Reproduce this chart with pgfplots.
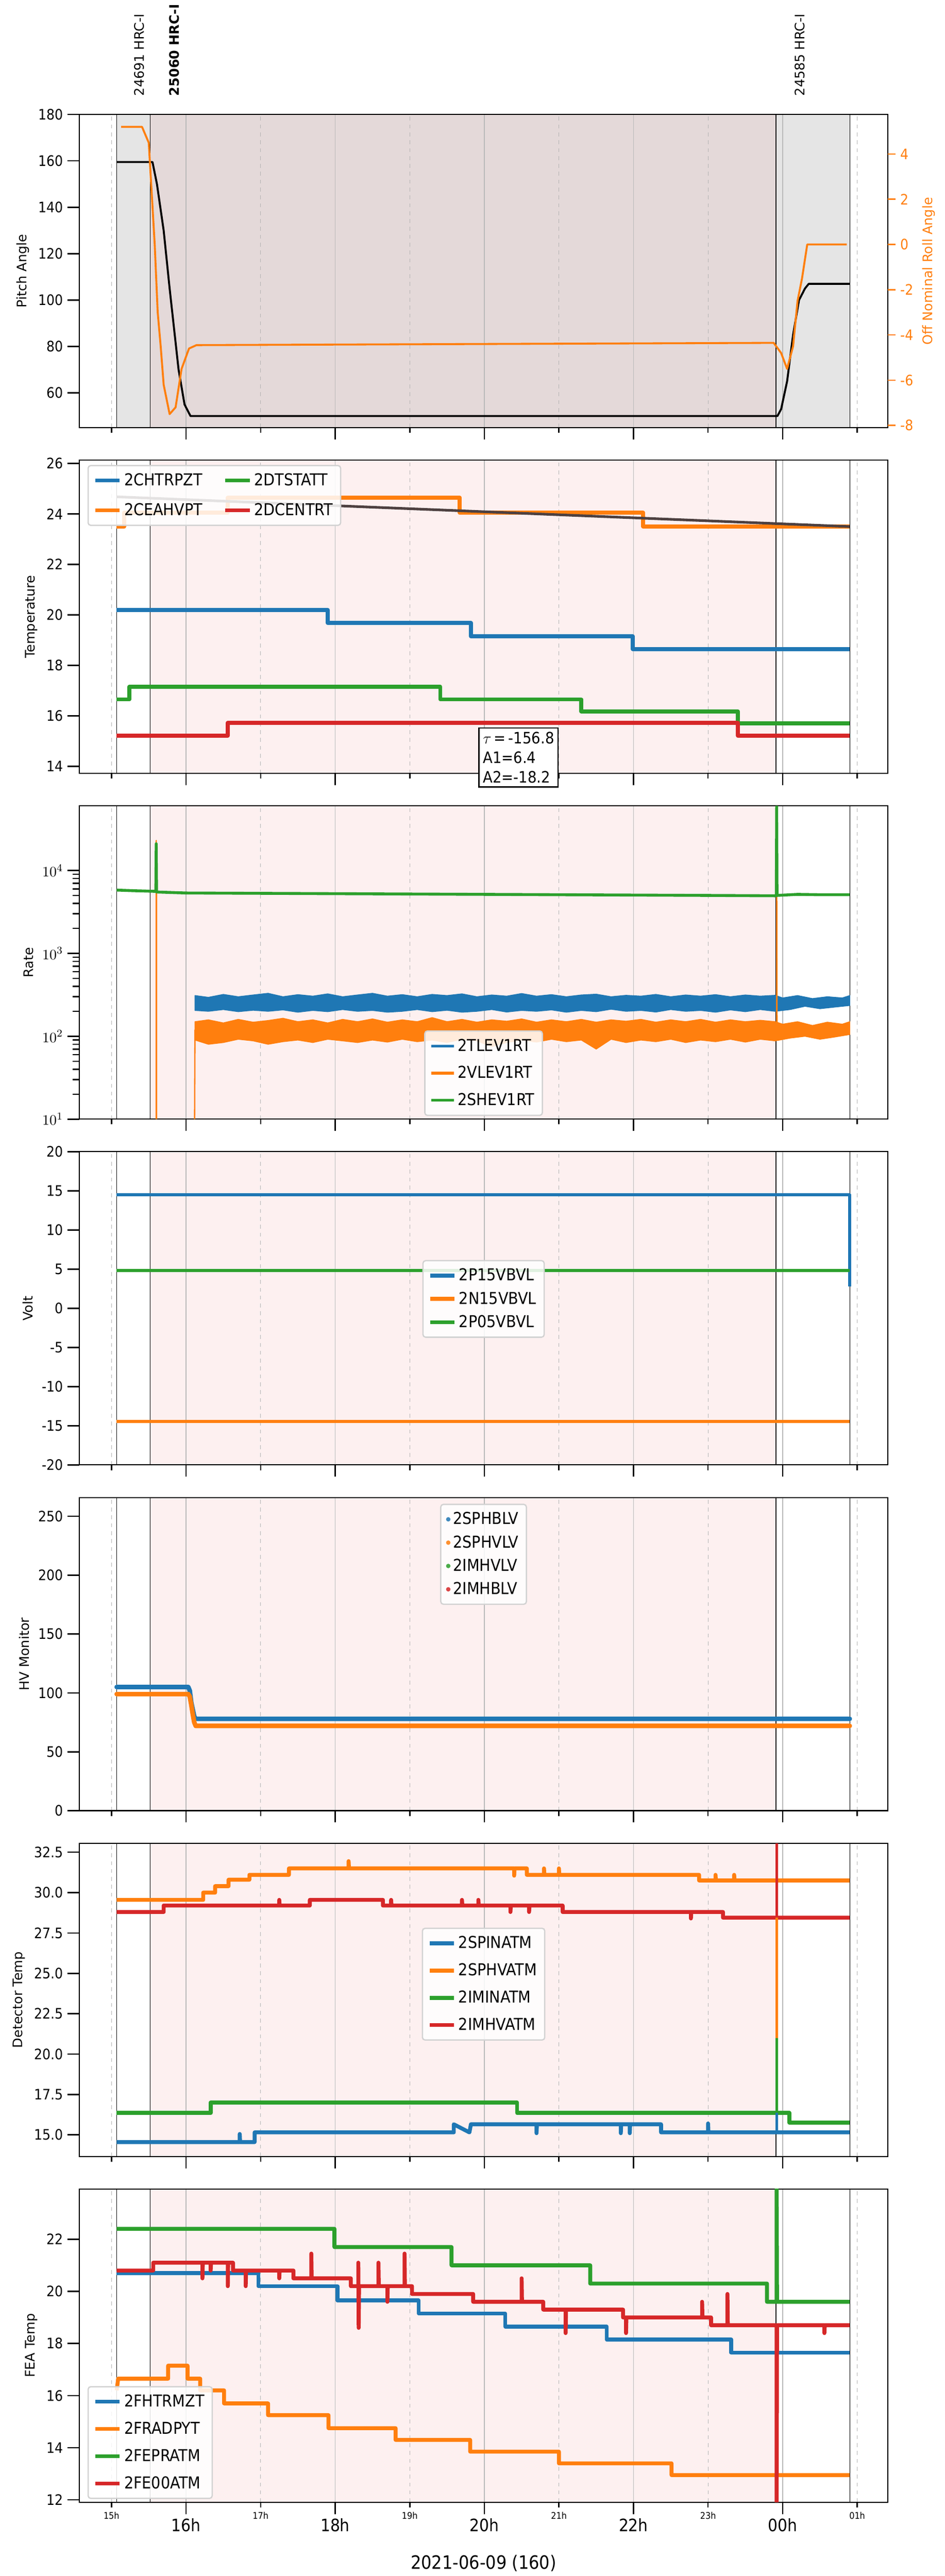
\documentclass[border=0pt]{standalone}
\usepackage{fontspec}
\setmainfont{DejaVu Sans}
\newfontfamily\cond{DejaVu Sans Condensed}
\usepackage{pgfplots}
\pgfplotsset{compat=1.18}
\definecolor{c1}{HTML}{1F77B4}
\definecolor{c2}{HTML}{FF7F0E}
\definecolor{c3}{HTML}{2CA02C}
\definecolor{c4}{HTML}{D62728}
\definecolor{pinkbg}{RGB}{253,240,240}
\definecolor{graybg}{RGB}{229,229,229}
\definecolor{mixbg}{RGB}{228,217,217}
\newcommand{\decor}[2]{%
\begin{pgfonlayer}{axis background}
\fill[pinkbg] (axis cs:15.52,#1) rectangle (axis cs:23.91,#2);
\draw[black, line width=0.5pt] (axis cs:15.07,#1)--(axis cs:15.07,#2);
\draw[black, line width=0.5pt] (axis cs:15.52,#1)--(axis cs:15.52,#2);
\draw[black, line width=0.5pt] (axis cs:23.91,#1)--(axis cs:23.91,#2);
\draw[black, line width=0.5pt] (axis cs:24.90,#1)--(axis cs:24.90,#2);
\end{pgfonlayer}}
\pgfplotsset{
 every axis plot/.append style={line join=round},
 panel/.style={set layers, scale only axis, width=616pt, height=238.7pt,
  xmin=14.57, xmax=25.41,
  xtick={16,18,20,22,24}, xticklabels={},
  extra x ticks={15,17,19,21,23,25}, extra x tick labels={},
  extra x tick style={major tick length=4pt, grid=major, major grid style={gray!60, dashed, line width=0.5pt}},
  xmajorgrids, major grid style={gray!55, line width=0.5pt},
  tick align=outside, major tick length=9pt, minor tick length=5pt,
  xtick pos=bottom, ytick pos=left,
  tick style={black, line width=1pt},
  axis line style={line width=0.8pt},
  /pgf/number format/assume math mode=true,
  tick label style={font=\cond\fontsize{11}{12}\selectfont},
  y label style={font=\fontsize{10}{12}\selectfont},
  legend style={font=\cond\fontsize{12.5}{14}\selectfont, draw=gray!35, rounded corners=2pt, fill=white, fill opacity=0.85, text opacity=1, line width=1pt, row sep=3pt, inner sep=4pt},
  legend cell align=left,
  legend image code/.code={\draw[#1, line width=3pt] (0cm,0cm) -- (0.65cm,0cm);},
 }
}
\begin{document}
\begin{tikzpicture}
\path (0,0) rectangle (720pt,1944pt);
% ---------- Panel 1
\begin{axis}[panel, at={(60.5pt,1620.6pt)}, ymin=45, ymax=180, ytick={60,80,...,180}, ylabel={Pitch Angle}, clip=false]
\begin{pgfonlayer}{axis background}
\fill[graybg] (axis cs:15.07,45) rectangle (axis cs:24.90,180);
\fill[mixbg] (axis cs:15.52,45) rectangle (axis cs:23.91,180);
\draw[black, line width=0.5pt] (axis cs:15.07,45)--(axis cs:15.07,180);
\draw[black, line width=0.5pt] (axis cs:15.52,45)--(axis cs:15.52,180);
\draw[black, line width=0.5pt] (axis cs:23.91,45)--(axis cs:23.91,180);
\draw[black, line width=0.5pt] (axis cs:24.90,45)--(axis cs:24.90,180);
\end{pgfonlayer}
\addplot[black, line width=1.5pt] coordinates {(15.07,159.5)(15.55,159.5)(15.61,150)(15.70,130)(15.78,105)(15.90,70)(15.98,55)(16.06,50)(23.93,50)(23.98,53)(24.06,65)(24.14,85)(24.22,100)(24.30,105)(24.35,107)(24.90,107)};
\node[rotate=90, anchor=west, font=\fontsize{10}{12}\selectfont] at (axis cs:15.37,186) {24691 HRC-I};
\node[rotate=90, anchor=west, font=\bfseries\fontsize{10}{12}\selectfont] at (axis cs:15.84,186) {25060 HRC-I};
\node[rotate=90, anchor=west, font=\fontsize{10}{12}\selectfont] at (axis cs:24.23,186) {24585 HRC-I};
\end{axis}
\begin{axis}[scale only axis, width=616pt, height=238.7pt, at={(60.5pt,1620.6pt)},
  xmin=14.57, xmax=25.41, ymin=-8.1, ymax=5.75, hide x axis, axis y line*=right,
  ytick={-8,-6,...,4}, tick align=outside, major tick length=6pt,
  ytick style={c2, line width=1pt},
  /pgf/number format/assume math mode=true,
  yticklabel style={c2, font=\cond\fontsize{11}{12}\selectfont},
  ylabel={Off Nominal Roll Angle}, ylabel style={c2, font=\fontsize{10}{12}\selectfont}]
\addplot[c2, line width=1.5pt, line join=round] coordinates {(15.13,5.2)(15.41,5.2)(15.50,4.5)(15.58,0)(15.62,-3)(15.66,-4.5)(15.70,-6.2)(15.78,-7.5)(15.86,-7.2)(15.94,-5.5)(16.04,-4.6)(16.14,-4.45)(20,-4.4)(23.88,-4.35)(23.98,-4.8)(24.06,-5.5)(24.14,-4.5)(24.20,-2.5)(24.26,-1.5)(24.33,0)(24.86,0)};
\end{axis}
% ---------- Panel 2
\begin{axis}[panel, at={(60.5pt,1357.1pt)}, ymin=13.72, ymax=26.13, ytick={14,16,...,26}, ylabel={Temperature}, clip=false,
  legend columns=2, transpose legend, legend style={at={(0.01,0.985)}, anchor=north west, row sep=8pt, /tikz/every even column/.append style={column sep=14pt}}]
\decor{13.72}{26.13}
\addplot[c1, line width=3pt] coordinates {(15.07,20.2)(17.90,20.2)(17.90,19.68)(19.82,19.68)(19.82,19.15)(21.99,19.15)(21.99,18.65)(24.90,18.65)};
\addlegendentry{2CHTRPZT}
\addplot[c2, line width=3pt] coordinates {(15.07,23.5)(15.17,23.5)(15.17,24.05)(16.56,24.05)(16.56,24.65)(19.67,24.65)(19.67,24.05)(22.13,24.05)(22.13,23.5)(24.90,23.5)};
\addlegendentry{2CEAHVPT}
\addplot[c3, line width=3pt] coordinates {(15.07,16.65)(15.24,16.65)(15.24,17.15)(19.41,17.15)(19.41,16.65)(21.30,16.65)(21.30,16.18)(23.40,16.18)(23.40,15.7)(24.90,15.7)};
\addlegendentry{2DTSTATT}
\addplot[c4, line width=3pt] coordinates {(15.07,15.22)(16.56,15.22)(16.56,15.72)(23.40,15.72)(23.40,15.22)(24.90,15.22)};
\addlegendentry{2DCENTRT}
\addplot[color={rgb,255:red,77;green,64;blue,64}, line width=2pt, forget plot] coordinates {(15.07,24.68)(24.90,23.5)};
\node[draw, fill=white, line width=1pt, anchor=north west, align=left, inner sep=3pt, font=\cond\fontsize{12}{15}\selectfont] at (axis cs:19.92,15.55) {$\tau$\,=\,-156.8\\A1=6.4\\A2=-18.2};
\end{axis}
% ---------- Panel 3
\begin{axis}[panel, at={(60.5pt,1093.6pt)}, ymode=log, ymin=10, ymax=60000, ytick={10,100,1000,10000}, ylabel={Rate},
  legend style={at={(0.5,0.01)}, anchor=south, row sep=6pt},
  legend image code/.code={\draw[#1, line width=2pt] (0cm,0cm) -- (0.6cm,0cm);}]
\decor{10}{60000}
\addplot[c1, fill=c1, line width=0.6pt] coordinates {(16.12,310)(16.3,295)(16.5,320)(16.7,300)(16.9,315)(17.1,330)(17.3,300)(17.5,318)(17.7,305)(17.9,325)(18.1,300)(18.3,315)(18.5,330)(18.7,305)(18.9,318)(19.1,300)(19.3,320)(19.5,310)(19.7,325)(19.9,300)(20.1,315)(20.3,305)(20.5,328)(20.7,305)(20.9,318)(21.1,300)(21.3,315)(21.5,322)(21.7,300)(21.9,312)(22.1,305)(22.3,320)(22.5,300)(22.7,315)(22.9,305)(23.1,318)(23.3,300)(23.5,315)(23.7,305)(23.9,312)(24.0,290)(24.2,310)(24.4,285)(24.6,300)(24.8,290)(24.9,310)
(24.9,235)(24.7,225)(24.5,215)(24.3,230)(24.1,210)(23.9,200)(23.7,210)(23.5,198)(23.3,208)(23.1,195)(22.9,205)(22.7,200)(22.5,210)(22.3,196)(22.1,205)(21.9,200)(21.7,212)(21.5,198)(21.3,205)(21.1,195)(20.9,208)(20.7,200)(20.5,205)(20.3,196)(20.1,210)(19.9,200)(19.7,195)(19.5,206)(19.3,198)(19.1,210)(18.9,200)(18.7,195)(18.5,205)(18.3,200)(18.1,210)(17.9,198)(17.7,205)(17.5,195)(17.3,208)(17.1,200)(16.9,206)(16.7,198)(16.5,210)(16.3,200)(16.12,205)} -- cycle;
\addlegendentry{2TLEV1RT}
\addplot[c2, fill=c2, line width=0.6pt] coordinates {(16.12,150)(16.3,158)(16.5,145)(16.7,160)(16.9,148)(17.1,155)(17.3,165)(17.5,150)(17.7,158)(17.9,145)(18.1,160)(18.3,150)(18.5,162)(18.7,148)(18.9,158)(19.1,150)(19.3,168)(19.5,150)(19.7,160)(19.9,148)(20.1,158)(20.3,152)(20.5,162)(20.7,148)(20.9,158)(21.1,150)(21.3,160)(21.5,148)(21.7,158)(21.9,152)(22.1,160)(22.3,148)(22.5,158)(22.7,150)(22.9,160)(23.1,148)(23.3,158)(23.5,150)(23.7,156)(23.9,150)(24.0,140)(24.2,150)(24.4,135)(24.6,148)(24.8,140)(24.9,150)
(24.9,105)(24.7,98)(24.5,92)(24.3,100)(24.1,95)(23.9,88)(23.7,92)(23.5,85)(23.3,92)(23.1,86)(22.9,90)(22.7,84)(22.5,92)(22.3,86)(22.1,90)(21.9,84)(21.7,92)(21.5,70)(21.3,90)(21.1,86)(20.9,92)(20.7,85)(20.5,90)(20.3,84)(20.1,75)(19.9,88)(19.7,92)(19.5,84)(19.3,90)(19.1,86)(18.9,92)(18.7,85)(18.5,90)(18.3,84)(18.1,88)(17.9,92)(17.7,84)(17.5,90)(17.3,86)(17.1,80)(16.9,88)(16.7,92)(16.5,84)(16.3,80)(16.12,90)} -- cycle;
\addlegendentry{2VLEV1RT}
\addplot[c2, line width=1pt, forget plot] coordinates {(15.60,10)(15.60,23000)(15.605,5000)(15.605,10)};
\addplot[c2, line width=1pt, forget plot] coordinates {(16.115,10)(16.12,120)};
\addplot[c2, line width=1pt, forget plot] coordinates {(23.92,120)(23.92,12000)(23.925,120)};
\addplot[c3, line width=2.2pt] coordinates {(15.07,5800)(15.3,5700)(15.595,5600)(15.60,21000)(15.605,5500)(16,5350)(17,5300)(18,5250)(19,5200)(20,5150)(21,5100)(22,5050)(23,5000)(23.915,4950)(23.92,60000)(23.925,5000)(24.2,5150)(24.5,5100)(24.9,5100)};
\addlegendentry{2SHEV1RT}
\end{axis}
% ---------- Panel 4
\begin{axis}[panel, at={(60.5pt,830.1pt)}, ymin=-20, ymax=20, ytick={-20,-15,...,20}, ylabel={Volt},
  legend style={at={(0.5,0.53)}, anchor=center}]
\decor{-20}{20}
\addplot[c1, line width=2.2pt] coordinates {(15.07,14.5)(24.90,14.5)(24.90,2.8)};
\addlegendentry{2P15VBVL}
\addplot[c2, line width=2.2pt] coordinates {(15.07,-14.45)(24.90,-14.45)};
\addlegendentry{2N15VBVL}
\addplot[c3, line width=2.2pt] coordinates {(15.07,4.85)(24.90,4.85)};
\addlegendentry{2P05VBVL}
\end{axis}
% ---------- Panel 5
\begin{axis}[panel, at={(60.5pt,566.6pt)}, ymin=0, ymax=266, ytick={0,50,...,250}, ylabel={HV Monitor},
  legend style={at={(0.5,0.98)}, anchor=north},
  legend image code/.code={\fill[#1, line width=0pt, draw=none] (0.3cm,0cm) circle (1.7pt);}]
\decor{0}{266}
\addplot[c1, line width=3.5pt, line cap=round] coordinates {(15.07,105)(16.03,105)(16.05,102)(16.07,92)(16.09,86)(16.11,80)(16.13,78)(24.90,78)};
\addlegendentry{2SPHBLV}
\addplot[c2, line width=3.5pt, line cap=round] coordinates {(15.07,99)(16.03,99)(16.05,97)(16.07,90)(16.09,82)(16.11,75)(16.13,72)(24.90,72)};
\addlegendentry{2SPHVLV}
\addlegendimage{c3}
\addlegendentry{2IMHVLV}
\addlegendimage{c4}
\addlegendentry{2IMHBLV}
\end{axis}
% ---------- Panel 6
\begin{axis}[panel, at={(60.5pt,303.1pt)}, ymin=13.66, ymax=33.06, ytick={15,17.5,...,32.5}, ylabel={Detector Temp},
  yticklabel style={/pgf/number format/.cd, fixed, fixed zerofill, precision=1},
  legend style={at={(0.5,0.55)}, anchor=center, row sep=6pt}]
\decor{13.66}{33.06}
\addplot[c1, line width=3pt] coordinates {(15.07,14.55)(16.72,14.55)(16.72,15.05)(16.725,14.55)(16.92,14.55)(16.92,15.15)(19.59,15.15)(19.59,15.65)(19.80,15.15)(19.82,15.65)(20.70,15.65)(20.70,15.1)(20.705,15.65)(21.83,15.65)(21.83,15.1)(21.835,15.65)(21.95,15.65)(21.95,15.1)(21.955,15.65)(22.37,15.65)(22.37,15.15)(23.0,15.15)(23.0,15.7)(23.005,15.15)(24.90,15.15)};
\addlegendentry{2SPINATM}
\addplot[c2, line width=3pt] coordinates {(15.07,29.55)(16.23,29.55)(16.23,30.0)(16.39,30.0)(16.39,30.4)(16.57,30.4)(16.57,30.8)(16.85,30.8)(16.85,31.1)(17.38,31.1)(17.38,31.5)(18.18,31.5)(18.18,31.95)(18.185,31.5)(20.40,31.5)(20.40,31.05)(20.405,31.5)(20.57,31.5)(20.57,31.1)(20.8,31.1)(20.8,31.5)(20.805,31.1)(21.0,31.1)(21.0,31.5)(21.005,31.1)(22.88,31.1)(22.88,30.75)(23.10,30.75)(23.10,31.1)(23.105,30.75)(23.35,30.75)(23.35,31.1)(23.355,30.75)(24.90,30.75)};
\addlegendentry{2SPHVATM}
\addplot[c3, line width=3pt] coordinates {(15.07,16.35)(16.33,16.35)(16.33,17.0)(20.44,17.0)(20.44,16.35)(24.09,16.35)(24.09,15.75)(24.90,15.75)};
\addlegendentry{2IMINATM}
\addplot[c4, line width=3pt] coordinates {(15.07,28.8)(15.70,28.8)(15.70,29.2)(17.25,29.2)(17.25,29.55)(17.255,29.2)(17.66,29.2)(17.66,29.55)(18.64,29.55)(18.64,29.2)(18.75,29.2)(18.75,29.55)(18.755,29.2)(19.7,29.2)(19.7,29.55)(19.705,29.2)(19.92,29.2)(19.92,29.55)(19.925,29.2)(20.35,29.2)(20.35,28.8)(20.355,29.2)(20.6,29.2)(20.6,28.8)(20.605,29.2)(21.05,29.2)(21.05,28.8)(22.77,28.8)(22.77,28.4)(22.775,28.8)(23.20,28.8)(23.20,28.45)(24.90,28.45)};
\addlegendentry{2IMHVATM}
\addplot[c1, line width=2pt, forget plot] coordinates {(23.92,15.15)(23.92,16.8)};
\addplot[c2, line width=2pt, forget plot] coordinates {(23.92,30.75)(23.92,21)};
\addplot[c3, line width=2pt, forget plot] coordinates {(23.92,16.35)(23.92,21)};
\addplot[c4, line width=2pt, forget plot] coordinates {(23.92,28.45)(23.92,33.06)};
\end{axis}
% ---------- Panel 7
\begin{axis}[panel, at={(60.5pt,39.6pt)}, ymin=11.91, ymax=23.93, ytick={12,14,...,22}, ylabel={FEA Temp},
  xticklabels={16h,18h,20h,22h,00h}, xticklabel style={font=\cond\fontsize{13}{15}\selectfont},
  extra x tick labels={15h,17h,19h,21h,23h,01h},
  extra x tick style={major tick length=4pt, grid=major, major grid style={gray!60, dashed, line width=0.5pt}, xticklabel style={font=\cond\fontsize{7}{8}\selectfont}},
  xlabel={2021-06-09 (160)}, xlabel style={font=\cond\fontsize{14}{16}\selectfont, yshift=2pt},
  legend style={at={(0.01,0.01)}, anchor=south west, row sep=6pt}]
\decor{11.91}{23.93}
\addplot[c1, line width=3pt] coordinates {(15.07,20.7)(16.97,20.7)(16.97,20.2)(18.03,20.2)(18.03,19.65)(19.12,19.65)(19.12,19.15)(20.28,19.15)(20.28,18.65)(21.64,18.65)(21.64,18.15)(23.31,18.15)(23.31,17.65)(24.90,17.65)};
\addlegendentry{2FHTRMZT}
\addplot[c2, line width=3pt] coordinates {(15.07,16.2)(15.09,16.65)(15.76,16.65)(15.76,17.15)(16.02,17.15)(16.02,16.65)(16.19,16.65)(16.19,16.2)(16.51,16.2)(16.51,15.7)(17.10,15.7)(17.10,15.25)(17.91,15.25)(17.91,14.75)(18.81,14.75)(18.81,14.3)(19.81,14.3)(19.81,13.85)(21.00,13.85)(21.00,13.4)(22.51,13.4)(22.51,12.95)(24.90,12.95)};
\addlegendentry{2FRADPYT}
\addplot[c3, line width=3pt] coordinates {(15.07,22.4)(17.99,22.4)(17.99,21.7)(19.56,21.7)(19.56,21.0)(21.42,21.0)(21.42,20.3)(23.79,20.3)(23.79,19.6)(23.92,19.6)(23.92,23.93)(23.925,19.6)(24.90,19.6)};
\addlegendentry{2FEPRATM}
\addplot[c4, line width=3pt] coordinates {(15.07,20.8)(15.56,20.8)(15.56,21.1)(16.22,21.1)(16.22,20.5)(16.225,21.1)(16.33,21.1)(16.33,20.8)(16.335,21.1)(16.56,21.1)(16.56,20.2)(16.565,21.1)(16.63,21.1)(16.63,20.8)(16.80,20.8)(16.80,20.2)(16.805,20.8)(17.25,20.8)(17.25,20.5)(17.255,20.8)(17.44,20.8)(17.44,20.5)(17.68,20.5)(17.68,21.45)(17.685,20.5)(18.21,20.5)(18.21,20.2)(18.31,20.2)(18.31,21.1)(18.315,18.6)(18.32,20.2)(18.58,20.2)(18.58,21.1)(18.585,20.2)(18.70,20.2)(18.70,19.6)(18.705,20.2)(18.93,20.2)(18.93,21.45)(18.935,20.2)(19.03,20.2)(19.03,19.9)(19.85,19.9)(19.85,19.6)(20.50,19.6)(20.50,20.5)(20.505,19.6)(20.79,19.6)(20.79,19.3)(21.09,19.3)(21.09,18.4)(21.095,19.3)(21.86,19.3)(21.86,19.0)(21.90,19.0)(21.90,18.4)(21.905,19.0)(22.92,19.0)(22.92,19.6)(22.925,19.0)(23.04,19.0)(23.04,18.7)(23.26,18.7)(23.26,19.9)(23.265,18.7)(23.92,18.7)(23.92,11.91)(23.925,18.7)(24.56,18.7)(24.56,18.4)(24.565,18.7)(24.90,18.7)};
\addlegendentry{2FE00ATM}
\end{axis}
\end{tikzpicture}
\end{document}
